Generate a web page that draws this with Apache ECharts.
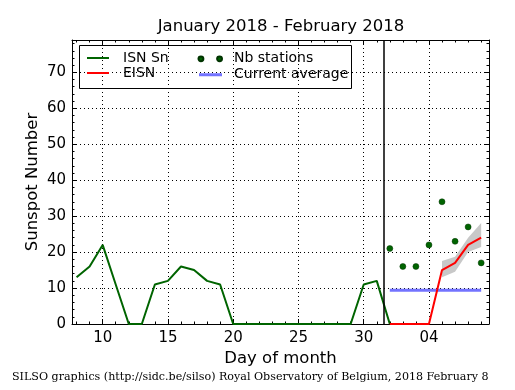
<!DOCTYPE html>
<html><head><meta charset="utf-8">
<script src="https://cdn.jsdelivr.net/npm/echarts@6/dist/echarts.min.js"></script>
<style>html,body{margin:0;padding:0;background:#fff}#c{width:515px;height:390px}</style>
</head><body><div id="c"></div>
<script>
// ---- data ----
const isnDays = [8,9,10,11,12,13,14,15,16,17,18,19,20,21,22,23,24,25,26,27,28,29,30,31,32];
const isnValues = [13,16,22,11,0,0,11,12,16,15,12,11,0,0,0,0,0,0,0,0,0,0,11,12,0];
const eisnDays = [32,33,34,35,36,37,38,39];
const eisnValues = [0,0,0,0,15,17,22,24];
const bandDays = [36,37,38,39];
const bandLower = [13,14.5,20,21.4];
const bandUpper = [17.5,18.7,24,28.1];
const stationDays = [32,33,34,35,36,37,38,39];
const stationValues = [21,16,16,22,34,23,27,17];
const avgDays = [32,39];
const avgValues = [9.4,9.4];
const monthBoundary = 31.5;
const xMajorTicks = [10,15,20,25,30,35];
const xTickLabels = {10:'10',15:'15',20:'20',25:'25',30:'30',35:'04'};
const xMinorTicks = [8,9,10,11,12,13,14,15,16,17,18,19,20,21,22,23,24,25,26,27,28,29,30,31,32,33,34,35,36,37,38,39];
const yMajorTicks = [0,10,20,30,40,50,60,70];
const yMinorTicks = [0,2,4,6,8,10,12,14,16,18,20,22,24,26,28,30,32,34,36,38,40,42,44,46,48,50,52,54,56,58,60,62,64,66,68,70,72,74,76,78];
const titleText = 'January 2018 - February 2018';
const xName = 'Day of month';
const yName = 'Sunspot Number';
const footer = 'SILSO graphics (http://sidc.be/silso) Royal Observatory of Belgium, 2018 February 8';

const XMIN = 7.65, XMAX = 39.6, YMIN = 0, YMAX = 79;
const FONT = 'DejaVu Sans';
const chart = echarts.init(document.getElementById('c'), null, {renderer:'canvas'});

function xAxisDef(pos, major, showLine) {
  return {
    type:'value', min:XMIN, max:XMAX, position:pos,
    axisLine:{show:showLine, onZero:false, lineStyle:{color:'#000', width:1}},
    axisTick:{show:true, inside:true, length: major ? 5 : 2.5, customValues: major ? xMajorTicks : xMinorTicks, lineStyle:{color:'#000'}},
    axisLabel:{show: major && pos==='bottom', customValues: xMajorTicks, formatter: v => xTickLabels[v] || '', color:'#000', fontSize:15, fontFamily:FONT, margin:7},
    splitLine:{show: major && pos==='bottom', lineStyle:{color:'#000', type:[1,3], width:1}},
    name: (major && pos==='bottom') ? xName : '', nameLocation:'middle', nameGap:26.5, nameMoveOverlap:false,
    nameTextStyle:{color:'#000', fontSize:16.5, fontFamily:FONT}
  };
}
function yAxisDef(pos, major, showLine) {
  return {
    type:'value', min:YMIN, max:YMAX, position:pos,
    axisLine:{show:showLine, onZero:false, lineStyle:{color:'#000', width:1}},
    axisTick:{show:true, inside:true, length: major ? 5 : 2.5, customValues: major ? yMajorTicks : yMinorTicks, lineStyle:{color:'#000'}},
    axisLabel:{show: major && pos==='left', customValues: yMajorTicks, color:'#000', fontSize:15, fontFamily:FONT, margin:6},
    splitLine:{show: major && pos==='left', lineStyle:{color:'#000', type:[1,3], width:1}},
    name: (major && pos==='left') ? yName : '', nameLocation:'middle', nameGap:31, nameMoveOverlap:false,
    nameTextStyle:{color:'#000', fontSize:16.5, fontFamily:FONT}
  };
}

// legend icons: degenerate corner points fix the bounding box to 24x14
const lineIcon2 = 'path://M0,0 L0.01,0 Z M24,14 L24.01,14 Z M1,6 L23,6 L23,8 L1,8 Z';
const lineIcon3 = 'path://M0,0 L0.01,0 Z M24,14 L24.01,14 Z M1,5.5 L24,5.5 L24,8.5 L1,8.5 Z';
const twoDots = 'path://M0,0 L0.01,0 Z M24,14 L24.01,14 Z M0.5,7 a2.5,2.5 0 1,0 5,0 a2.5,2.5 0 1,0 -5,0 Z M19.5,7 a2.5,2.5 0 1,0 5,0 a2.5,2.5 0 1,0 -5,0 Z';

const option = {
  backgroundColor:'#fff',
  animation:false,
  grid:{left:72, top:40, right:26, bottom:66, containLabel:false},
  xAxis:[xAxisDef('bottom',true,true), xAxisDef('bottom',false,false), xAxisDef('top',true,true), xAxisDef('top',false,false)],
  yAxis:[yAxisDef('left',true,true), yAxisDef('left',false,false), yAxisDef('right',true,true), yAxisDef('right',false,false)],
  legend:[
    {orient:'vertical', left:86, top:51, padding:0, itemWidth:24, itemHeight:14, itemGap:1,
     textStyle:{fontSize:14, fontFamily:FONT, color:'#000', lineHeight:14, padding:[0,0,0,8]},
     data:[{name:'ISN Sn', icon:lineIcon2}, {name:'EISN', icon:lineIcon2}], selectedMode:false},
    {orient:'vertical', left:197, top:51, padding:0, itemWidth:24, itemHeight:14, itemGap:1,
     textStyle:{fontSize:14, fontFamily:FONT, color:'#000', lineHeight:14, padding:[0,0,0,7]},
     data:[{name:'Nb stations', icon:twoDots}, {name:'Current average', icon:lineIcon3}], selectedMode:false}
  ],
  graphic:[
    {type:'text', x:281, y:27, style:{text:titleText, font:'16.5px "DejaVu Sans"', fill:'#000', align:'center', verticalAlign:'middle'}},
    {type:'text', x:12, y:377, style:{text:footer, font:'11.1px "DejaVu Serif"', fill:'#000', align:'left', verticalAlign:'middle'}},
    {type:'rect', shape:{x:79.5, y:45.5, width:272, height:43}, style:{fill:'none', stroke:'#000', lineWidth:1}, z:10}
  ],
  series:[
    {type:'custom', name:'band', silent:true, z:2,
     data: bandDays.map((d,i)=>[d, bandLower[i], bandUpper[i]]),
     encode:{x:0, y:[1,2]},
     renderItem:(params, api) => {
       if (params.dataIndex !== 0) return null;
       const pts = [];
       for (let i=0;i<bandDays.length;i++) pts.push(api.coord([bandDays[i], bandUpper[i]]));
       for (let i=bandDays.length-1;i>=0;i--) pts.push(api.coord([bandDays[i], bandLower[i]]));
       return {type:'polygon', shape:{points:pts}, style:{fill:'#c8c8c8'}};
     }},
    {type:'line', name:'ISN Sn', data: isnDays.map((d,i)=>[d, isnValues[i]]), showSymbol:false, symbol:'none',
     lineStyle:{color:'#006400', width:2}, itemStyle:{color:'#006400'}, z:4,
     markLine:{silent:true, symbol:'none', label:{show:false}, lineStyle:{color:'#000', width:1.5, type:'solid'}, data:[{xAxis:monthBoundary}]}},
    {type:'line', name:'EISN', data: eisnDays.map((d,i)=>[d, eisnValues[i]]), showSymbol:false, symbol:'none',
     lineStyle:{color:'#ff0000', width:2}, itemStyle:{color:'#ff0000'}, z:5},
    {type:'scatter', name:'Nb stations', data: stationDays.map((d,i)=>[d, stationValues[i]]), symbol:'circle', symbolSize:6,
     itemStyle:{color:'#006400', borderColor:'#003300', borderWidth:0.5, opacity:1}, z:6},
    {type:'line', name:'Current average', data: avgDays.map((d,i)=>[d, avgValues[i]]), showSymbol:false, symbol:'none',
     lineStyle:{color:'#7373ff', width:3}, itemStyle:{color:'#7373ff'}, z:3}
  ]
};
chart.setOption(option);
</script>
</body></html>
